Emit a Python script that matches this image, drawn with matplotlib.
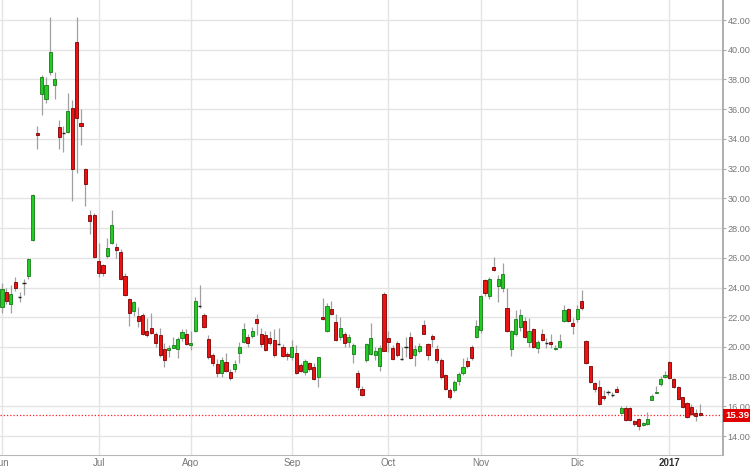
import numpy as np
import matplotlib
matplotlib.use("Agg")
import matplotlib.pyplot as plt
from matplotlib.transforms import blended_transform_factory

plt.rcParams['font.family'] = ['Liberation Sans', 'DejaVu Sans']

# -------------------------------
# DATA (daily candles)
# -------------------------------
month_labels = ["Jun", "Jul", "Ago", "Sep", "Oct", "Nov", "Dic", "2017"]
month_sessions = [22, 21, 23, 22, 21, 22, 21, 8]

opens = [
    # Jun
    22.7, 23.7, 22.9, 24.4, 23.35, 24.3, 24.8, 27.2, 34.4, 37.0, 36.7,
    38.5, 37.6, 34.8, 34.4, 34.5, 36.1, 40.5, 35.1, 32.0, 28.9, 28.9,
    # Jul
    25.8, 25.5, 26.1, 27.0, 26.7, 26.4, 24.8, 23.25, 22.4, 22.1, 22.15,
    21.1, 21.3, 20.9, 20.8, 19.85, 19.8, 19.95, 19.85, 20.6, 20.9,
    # Ago
    20.1, 21.1, 22.75, 22.15, 20.55, 19.45, 18.85, 18.25, 19.0, 18.3, 18.5,
    19.6, 20.35, 20.7, 20.75, 21.9, 20.9, 20.8, 20.6, 20.5, 20.2, 20.0, 19.5,
    # Sep
    19.3, 19.6, 18.8, 18.3, 18.9, 18.65, 17.95, 22.0, 21.1, 22.55, 21.65,
    20.7, 20.9, 20.35, 19.5, 18.25, 17.2, 19.1, 19.5, 19.45, 18.75, 23.55,
    # Oct
    20.6, 19.95, 20.25, 19.2, 20.0, 20.65, 19.45, 19.7, 21.5, 20.2, 20.75,
    19.85, 19.1, 18.1, 17.1, 17.1, 17.7, 18.25, 19.05, 20.0, 20.65,
    # Nov
    21.15, 24.5, 23.4, 25.4, 24.1, 24.0, 22.6, 19.85, 20.85, 21.35, 21.75,
    20.35, 21.2, 19.9, 20.9, 20.25, 20.35, 19.85, 20.0, 21.75, 22.55, 21.6,
    # Dic
    21.9, 23.1, 20.4, 18.7, 17.55, 17.3, 16.7, 16.95, 16.8, 17.2, 15.55,
    15.9, 15.9, 15.0, 15.15, 14.75, 14.8, 16.45, 16.9, 17.5, 17.95,
    # 2017
    19.0, 17.85, 17.3, 16.6, 16.2, 15.95, 15.55, 15.55,
]
highs = [
    24.3, 24.0, 24.2, 24.7, 23.7, 24.6, 26.0, 30.3, 34.9, 38.3, 38.2,
    42.2, 38.5, 35.3, 34.9, 37.1, 36.6, 42.2, 36.0, 32.05, 29.2, 29.0,
    27.0, 25.6, 27.3, 29.2, 27.0, 26.6, 25.0, 23.3, 23.1, 22.7, 22.3,
    21.95, 22.3, 21.0, 21.25, 20.25, 20.1, 20.7, 20.7, 21.2, 21.2,
    21.1, 23.35, 24.15, 22.3, 20.8, 19.6, 19.2, 19.35, 19.6, 18.5, 19.1,
    20.35, 21.6, 20.9, 21.35, 22.2, 21.25, 21.1, 21.1, 21.2, 21.25, 20.2, 19.65,
    20.45, 20.1, 18.95, 19.2, 19.0, 18.9, 19.3, 23.3, 22.95, 23.1, 22.2,
    22.0, 21.0, 20.9, 20.25, 18.45, 17.35, 20.3, 21.6, 20.0, 20.1, 23.7,
    21.1, 20.1, 20.4, 20.0, 20.65, 21.0, 20.1, 20.3, 21.8, 20.3, 20.9,
    20.1, 19.25, 18.2, 17.25, 17.8, 18.3, 19.25, 19.3, 20.1, 21.8,
    23.5, 24.6, 24.7, 26.05, 24.85, 25.65, 24.0, 21.15, 22.5, 22.55, 22.0,
    21.95, 21.3, 20.5, 21.2, 20.6, 20.9, 20.1, 20.9, 22.85, 22.6, 21.95,
    22.85, 23.85, 20.45, 18.75, 17.65, 17.75, 17.1, 17.1, 16.95, 17.4, 16.0,
    16.0, 15.95, 15.1, 15.2, 14.95, 15.6, 16.85, 17.35, 18.05, 18.4,
    19.05, 17.9, 17.35, 16.65, 16.3, 16.15, 15.8, 16.15,
]
lows = [
    22.3, 22.9, 22.3, 23.8, 23.0, 23.5, 24.6, 27.1, 33.3, 35.6, 36.4,
    38.3, 36.7, 33.3, 33.1, 34.4, 29.8, 31.7, 33.6, 29.5, 27.6, 26.0,
    24.7, 24.8, 26.0, 26.9, 26.0, 24.5, 23.4, 21.4, 22.1, 21.35, 20.8,
    20.7, 20.9, 20.0, 19.35, 18.65, 19.3, 19.9, 19.25, 20.4, 20.1,
    19.8, 21.0, 22.6, 21.3, 19.2, 18.75, 18.0, 18.0, 18.3, 17.8, 18.3,
    18.95, 20.25, 20.0, 20.6, 20.8, 20.0, 19.7, 20.1, 19.35, 20.1, 19.3, 19.1,
    19.1, 18.2, 18.3, 18.1, 18.4, 17.8, 17.3, 21.8, 21.0, 22.15, 20.4,
    20.5, 20.0, 20.0, 18.9, 17.1, 16.7, 19.0, 19.45, 19.1, 18.4, 19.7,
    19.65, 19.15, 19.35, 19.1, 19.3, 19.2, 18.7, 19.6, 20.85, 19.1, 20.0,
    18.95, 17.85, 17.1, 16.5, 16.95, 17.45, 18.1, 18.6, 19.1, 20.6,
    20.95, 23.4, 23.2, 25.1, 23.0, 23.7, 21.0, 19.4, 20.75, 21.1, 20.6,
    20.0, 19.9, 19.6, 20.4, 19.95, 19.9, 19.8, 19.9, 21.65, 21.7, 20.9,
    21.7, 22.5, 18.85, 17.55, 17.0, 16.1, 16.4, 16.8, 16.6, 16.95, 15.5,
    15.05, 15.05, 14.7, 14.4, 14.7, 14.75, 16.4, 16.9, 17.4, 17.9,
    17.85, 17.25, 16.45, 15.9, 15.25, 15.4, 15.0, 15.35,
]
closes = [
    23.9, 23.1, 23.55, 24.0, 23.35, 24.3, 25.9, 30.2, 34.25, 38.2, 37.6,
    39.85, 38.0, 34.1, 34.4, 35.9, 32.0, 35.4, 34.9, 31.0, 28.5, 26.05,
    25.0, 25.0, 26.65, 28.2, 26.5, 24.55, 23.5, 22.3, 23.0, 21.75, 20.9,
    20.8, 20.95, 20.3, 19.45, 19.1, 19.9, 20.1, 20.55, 21.0, 20.2,
    20.25, 23.1, 22.75, 21.35, 19.3, 18.9, 18.25, 19.1, 18.4, 17.9, 18.85,
    20.0, 21.2, 20.25, 21.1, 21.6, 20.2, 19.8, 20.3, 19.45, 20.2, 19.4, 19.4,
    20.0, 18.25, 18.4, 19.05, 18.5, 17.85, 19.3, 21.9, 22.75, 22.2, 20.5,
    21.25, 20.25, 20.7, 20.1, 17.3, 16.8, 20.2, 20.6, 19.75, 19.95, 19.75,
    20.35, 19.2, 19.45, 19.2, 20.0, 19.25, 19.85, 20.05, 20.9, 19.45, 20.55,
    19.1, 18.0, 17.2, 16.6, 17.65, 18.2, 18.65, 18.7, 19.25, 21.4,
    23.4, 23.6, 24.6, 25.2, 24.55, 24.9, 21.1, 21.1, 21.9, 22.15, 20.65,
    21.1, 20.0, 20.35, 20.5, 20.25, 20.2, 19.95, 20.4, 22.5, 21.75, 21.4,
    22.55, 22.6, 18.9, 17.65, 17.15, 16.15, 16.55, 16.95, 16.8, 17.0, 15.9,
    15.1, 15.1, 14.8, 14.65, 14.9, 15.15, 16.7, 17.0, 17.85, 18.1,
    17.9, 17.3, 16.5, 15.95, 15.3, 15.5, 15.35, 15.39,
]
last_price = 15.39

# -------------------------------
# PREPARE
# -------------------------------
o = np.array(opens)
h = np.array(highs)
l = np.array(lows)
c = np.array(closes)
x = np.arange(len(o))
month_starts = np.concatenate([[0], np.cumsum(month_sessions)[:-1]])

up = c > o
down = c < o
flat = c == o

body_bottom = np.minimum(o, c)
body_height = np.maximum(np.abs(c - o), 0.08)

# -------------------------------
# PLOT
# -------------------------------
fig = plt.figure(figsize=(7.5, 4.67), dpi=100)
ax = fig.add_axes([0, 12 / 467, 723 / 750, 455 / 467])

ax.vlines(x, l, h, color='#a0a0a0', lw=0.9, zorder=2)
ax.bar(x[up], body_height[up], bottom=body_bottom[up], width=0.72,
       color='#22cc22', edgecolor='#157a15', linewidth=0.6, zorder=3)
ax.bar(x[down], body_height[down], bottom=body_bottom[down], width=0.72,
       color='#ee1111', edgecolor='#7a0000', linewidth=0.6, zorder=3)
ax.hlines(o[flat], x[flat] - 0.4, x[flat] + 0.4, color='#222222', lw=1.0, zorder=3)

# last price line + tag
ax.axhline(last_price, color='#ff2020', lw=0.9, ls=(0, (1, 1.6)), zorder=1)
trans = blended_transform_factory(ax.transAxes, ax.transData)
ax.text(1.003, last_price, f"{last_price:.2f}", transform=trans, ha='left', va='center',
        color='white', fontsize=6.8, fontweight='bold', clip_on=False, zorder=5,
        bbox=dict(boxstyle='square,pad=0.22', fc='#e00000', ec='none'))

# axes
ax.set_xlim(-0.46, 164.2)
ax.set_ylim(12.73, 43.35)

ax.yaxis.tick_right()
yt = np.arange(14, 43, 2)
ax.set_yticks(yt)
ax.set_yticklabels([f"{v:.2f}" for v in yt])
ax.tick_params(axis='y', length=2.5, color='#aaaaaa', labelsize=6.6, labelcolor='#777777', pad=0.8)

ax.set_xticks(month_starts)
ax.set_xticklabels(month_labels)
ax.tick_params(axis='x', length=0, labelsize=7, labelcolor='#777777', pad=2)
for lab in ax.get_xticklabels():
    if lab.get_text() == "2017":
        lab.set_fontweight('bold')
        lab.set_color('#333333')

ax.grid(True, color='#e4e4e4', lw=1.0, zorder=0)
ax.set_axisbelow(True)

for side in ['left', 'top']:
    ax.spines[side].set_visible(False)
ax.spines['right'].set_color('#a8a8a8')
ax.spines['right'].set_linewidth(1.3)
ax.spines['bottom'].set_color('#b8b8b8')

fig.savefig("out.png", dpi=100)
